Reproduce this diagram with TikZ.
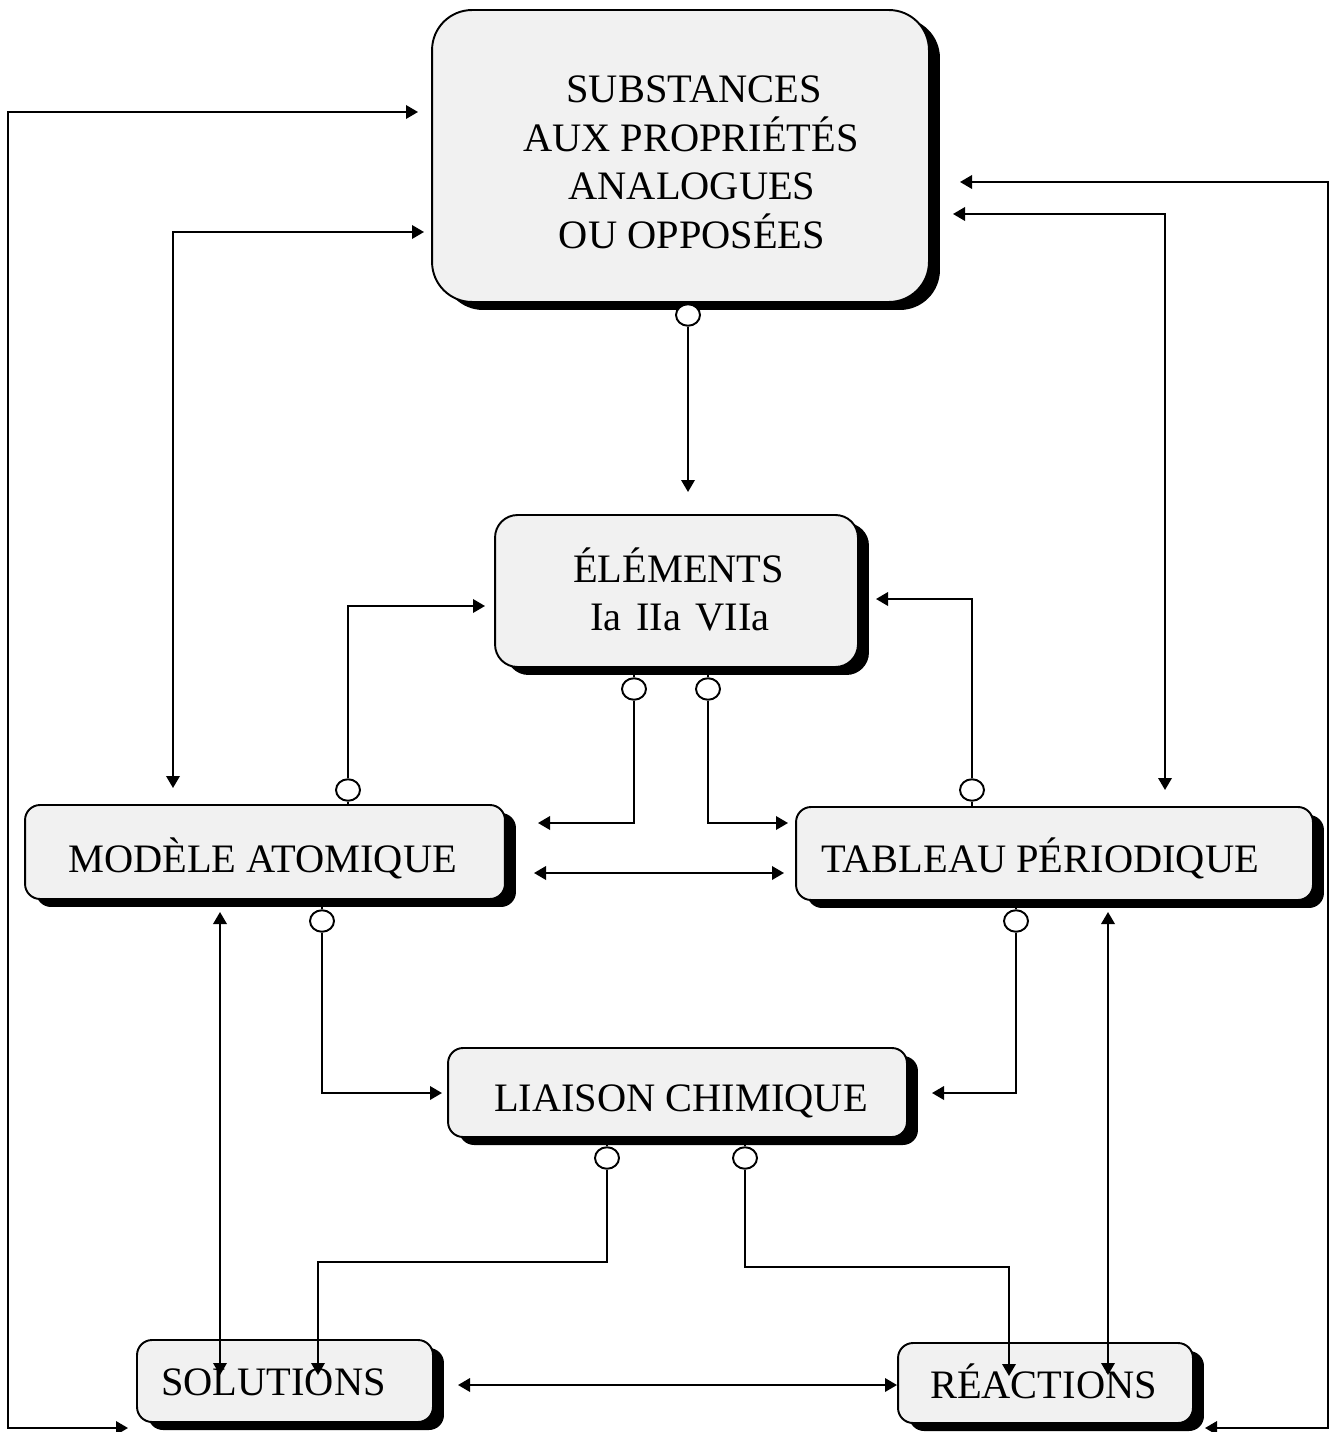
\documentclass[tikz,border=0pt]{standalone}
\usepackage{fontspec}
\setmainfont{Liberation Serif}
\usetikzlibrary{arrows.meta,shadows,shapes.geometric}
\definecolor{boxfill}{RGB}{241,241,241}
\begin{document}
\begin{tikzpicture}[x=0.02cm,y=-0.02cm,
  line width=1.1pt,
  box/.style={draw, fill=boxfill, rectangle, inner sep=0pt, rounded corners=0.3cm,
    drop shadow={shadow xshift=0.22cm, shadow yshift=-0.16cm, fill=black, opacity=1}},
  txt/.style={anchor=base, inner sep=0pt, font=\fontsize{23}{27.6}\selectfont},
  port/.style={ellipse, draw, fill=white, inner sep=0pt, minimum width=0.48cm, minimum height=0.43cm},
  arr/.style={-{Triangle[length=0.24cm,width=0.27cm]}},
  darr/.style={{Triangle[length=0.24cm,width=0.27cm]}-{Triangle[length=0.24cm,width=0.27cm]}}]

\useasboundingbox (0,0) rectangle (1337,1432);

% boxes
\node[box, rounded corners=0.8cm, minimum width=9.94cm, minimum height=5.84cm] (sub) at (680.5,156) {};
\node[box, rounded corners=0.45cm, minimum width=7.26cm, minimum height=3.04cm] (elem) at (676.5,591) {};
\node[box, minimum width=9.6cm, minimum height=1.88cm] (mod) at (265,852) {};
\node[box, minimum width=10.34cm, minimum height=1.86cm] (tab) at (1054.5,853.5) {};
\node[box, minimum width=9.18cm, minimum height=1.78cm] (lia) at (677.5,1092.5) {};
\node[box, minimum width=5.92cm, minimum height=1.64cm] (sol) at (285,1381) {};
\node[box, minimum width=5.9cm, minimum height=1.6cm] (rea) at (1045.5,1383) {};

% labels
\node[txt] (sub1) at (694,103) {SUBSTANCES};
\node[txt] (sub2) at (691,151.5) {AUX PROPRIÉTÉS};
\node[txt] (sub3) at (692,200) {ANALOGUES};
\node[txt] (sub4) at (692,248.5) {OU OPPOSÉES};
\node[txt] (elem1) at (678.5,582) {ÉLÉMENTS};
\node[txt] (elem2) at (680,630) {Ia\hspace{0.36em}IIa\hspace{0.36em}VIIa};
\node[txt] (modt) at (262.5,872) {MODÈLE ATOMIQUE};
\node[txt] (tabt) at (1040,872) {TABLEAU PÉRIODIQUE};
\node[txt] (liat) at (681,1111) {LIAISON CHIMIQUE};
\node[txt] (solt) at (273.5,1395) {SOLUTIONS};
\node[txt] (reat) at (1043.5,1398) {RÉACTIONS};

% ports
\node[port] (csub) at (688,315) {};
\node[port] (ce1) at (634,689) {};
\node[port] (ce2) at (708,689) {};
\node[port] (cm1) at (348,790) {};
\node[port] (ct1) at (972,790) {};
\node[port] (cm2) at (322,921) {};
\node[port] (ct2) at (1016,921) {};
\node[port] (cl1) at (607,1158) {};
\node[port] (cl2) at (745,1158) {};

% stubs joining ports to their boxes
\draw (csub |- sub.south) -- (csub);
\draw (ce1 |- elem.south) -- (ce1);
\draw (ce2 |- elem.south) -- (ce2);
\draw (cm1 |- mod.north) -- (cm1);
\draw (ct1 |- tab.north) -- (ct1);
\draw (cm2 |- mod.south) -- (cm2);
\draw (ct2 |- tab.south) -- (ct2);
\draw (cl1 |- lia.south) -- (cl1);
\draw (cl2 |- lia.south) -- (cl2);

% end points
\coordinate (tA) at (688,492);
\coordinate (tB) at (538,823);
\coordinate (tC) at (788,823);
\coordinate (tD) at (485,606);
\coordinate (tE) at (876,599);
\coordinate (tF) at (442,1093);
\coordinate (tG) at (932,1093);
\coordinate (hH) at (318,1262);
\coordinate (tH) at (318,1375);
\coordinate (hI) at (1009,1267);
\coordinate (tI) at (1009,1376);
\coordinate (jT) at (418,112);
\coordinate (jS) at (128,1428);
\coordinate (kT) at (424,232);
\coordinate (kM) at (173,788);
\coordinate (lT) at (960,182);
\coordinate (lR) at (1205,1428);
\coordinate (mT) at (953,214);
\coordinate (mB) at (1165,790);
\coordinate (nL) at (534,873);
\coordinate (nR) at (784,873);
\coordinate (oL) at (458,1385);
\coordinate (oR) at (897,1385);
\coordinate (pT) at (220,912);
\coordinate (pB) at (220,1375);
\coordinate (qT) at (1108,912);
\coordinate (qB) at (1108,1375);

% one-way links from the ports
\draw[arr] (csub) -- (tA);
\draw[arr] (ce1) |- (tB);
\draw[arr] (ce2) |- (tC);
\draw[arr] (cm1) |- (tD);
\draw[arr] (ct1) |- (tE);
\draw[arr] (cm2) |- (tF);
\draw[arr] (ct2) |- (tG);
\draw[arr] (cl1) |- (hH) -- (tH);
\draw[arr] (cl2) |- (hI) -- (tI);

% two-way links
\draw[darr] (jT) -| (8,1428) -- (jS);
\draw[darr] (kT) -| (kM);
\draw[darr] (lT) -| (1328,1428) -- (lR);
\draw[darr] (mT) -| (mB);
\draw[darr] (nL) -- (nR);
\draw[darr] (oL) -- (oR);
\draw[darr] (pT) -- (pB);
\draw[darr] (qT) -- (qB);
\end{tikzpicture}
\end{document}
